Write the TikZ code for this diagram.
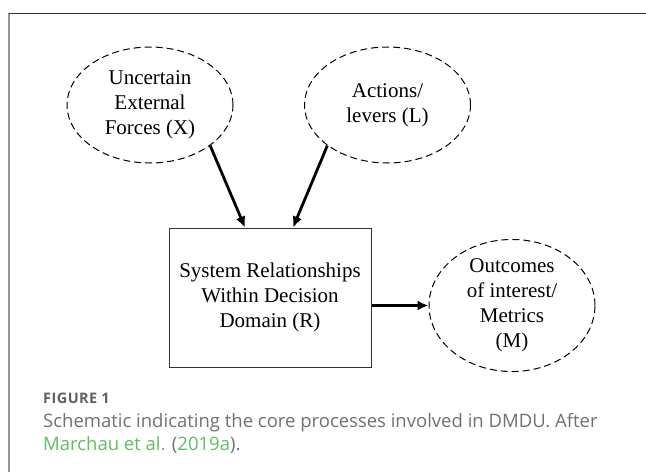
\documentclass[tikz,border=0pt]{standalone}
\usepackage{fontspec}
\setmainfont{Liberation Serif}
\newfontfamily\capfont{Open Sans}
\newfontfamily\figfont[LetterSpace=3]{Open Sans}
\usetikzlibrary{shapes.geometric,arrows.meta,calc}
\definecolor{capgray}{RGB}{112,112,112}
\definecolor{figgray}{RGB}{96,96,96}
\definecolor{capgreen}{RGB}{98,190,98}
\definecolor{framedark}{RGB}{51,51,51}
\definecolor{framegray}{RGB}{150,150,150}
\tikzset{
  dashell/.style={ellipse, draw=black, dash pattern=on 7pt off 4pt, line width=1pt,
    minimum width=166pt, minimum height=116pt, inner sep=0pt, align=center,
    font=\fontsize{21}{25}\selectfont},
  sysbox/.style={rectangle, draw=black!80, line width=1pt, minimum width=202pt,
    minimum height=139pt, inner sep=0pt, align=center, font=\fontsize{21}{25}\selectfont},
  arr/.style={line width=2.8pt, -{Latex[length=11pt,width=10pt]}},
  captext/.style={anchor=base west, inner sep=0pt, text=capgray,
    font=\capfont\fontsize{18.5}{23}\selectfont}
}
\begin{document}
\begin{tikzpicture}[x=1pt,y=-1pt]
\useasboundingbox (0,0) rectangle (646,472);
% frame
\draw[framegray, line width=1.5pt] (9,13) -- (9,472);
\draw[framedark, line width=1pt] (9,13) -- (646,13);
% nodes
\node[dashell] (e1) at (150,105) {Uncertain\\External\\Forces (X)};
\node[dashell] (e2) at (387.5,105) {\raisebox{-5pt}{\begin{tabular}{@{}c@{}}Actions/\\levers (L)\end{tabular}}};
\node[sysbox] (box) at (270,297.5) {System Relationships\\Within Decision\\Domain (R)};
\node[dashell] (e3) at (512,305.5) {Outcomes\\of interest/\\Metrics\\(M)};
% connectors
\draw[arr] (e1.-34.6) -- ($(box.north)+(-25,0)$);
\draw[arr] (e2.-146) -- ($(box.north)+(23,0)$);
\draw[arr] (box.east |- e3.west) -- (e3.west);
% caption
\node[anchor=base west, inner sep=0pt, text=figgray, font=\figfont\bfseries\fontsize{14.5}{15}\selectfont] (fig) at (43,403) {FIGURE 1};
\node[captext] (cap1) at (43,427) {Schematic indicating the core processes involved in DMDU. After};
\node[captext] (cap2) at (43,450) {\textcolor{capgreen}{Marchau et al.} (\textcolor{capgreen}{2019a}).};
\end{tikzpicture}
\end{document}
